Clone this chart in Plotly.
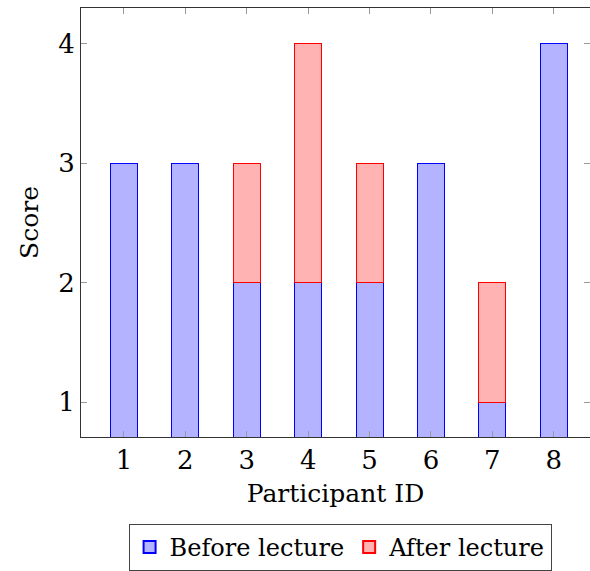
import plotly.graph_objects as go

participants = [1, 2, 3, 4, 5, 6, 7, 8]
before_lecture = [3, 3, 2, 2, 2, 3, 1, 4]
after_lecture = [0, 0, 1, 2, 1, 0, 1, 0]
y_ticks = [1, 2, 3, 4]

FONT = "DejaVu Serif"

fig = go.Figure()
fig.add_trace(go.Bar(
    x=participants, y=before_lecture, name="Before lecture", width=0.44,
    marker=dict(color="#b3b3ff", line=dict(color="#0000ff", width=1)),
))
fig.add_trace(go.Bar(
    x=participants, y=[v if v else None for v in after_lecture], name="After lecture", width=0.44,
    marker=dict(color="#ffb3b3", line=dict(color="#ff0000", width=1)),
))

fig.update_layout(
    width=590, height=571,
    margin=dict(l=81, r=0, t=8, b=133),
    barmode="stack",
    plot_bgcolor="white", paper_bgcolor="white",
    font=dict(family=FONT, size=25, color="black"),
    showlegend=True,
    legend=dict(
        orientation="h", x=0.509, xanchor="center", y=-0.202, yanchor="top",
        bordercolor="#444444", borderwidth=1, font=dict(size=24),
        itemsizing="constant", traceorder="normal", itemwidth=30,
        tracegroupgap=0,
    ),
    xaxis=dict(
        range=[0.3, 8.59], tickvals=participants, ticktext=[str(p) for p in participants],
        ticks="inside", ticklen=6, tickcolor="#999999", showline=True, linecolor="#333333",
        linewidth=1, mirror="ticks", showgrid=False, zeroline=False,
        tickfont=dict(size=26),
        title=dict(text="Participant ID", font=dict(size=25), standoff=10),
    ),
    yaxis=dict(
        range=[0.708, 4.30], tickvals=y_ticks, ticktext=[str(t) for t in y_ticks],
        ticks="inside", ticklen=6, tickcolor="#999999", showline=True, linecolor="#333333",
        linewidth=1, mirror="ticks", showgrid=False, zeroline=False,
        tickfont=dict(size=26),
        title=dict(text="Score", font=dict(size=25), standoff=12),
    ),
)

fig.write_html("out.html")
